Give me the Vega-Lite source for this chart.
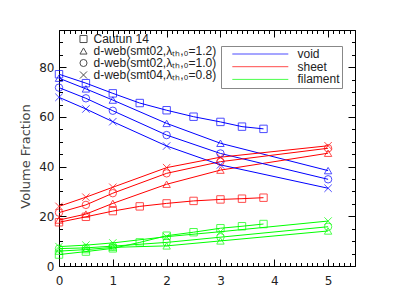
{
  "$schema": "https://vega.github.io/schema/vega-lite/v6.json",
  "width": 296,
  "height": 236,
  "autosize": "none",
  "padding": {"left": 59, "top": 30, "right": 60, "bottom": 31},
  "config": {
    "font": "DejaVu Sans",
    "view": {"stroke": "black", "strokeWidth": 1},
    "axis": {
      "grid": false,
      "domain": false,
      "tickColor": "black",
      "tickWidth": 1,
      "labelColor": "#222",
      "labelFontSize": 12,
      "labelFont": "DejaVu Sans",
      "titleFont": "DejaVu Sans",
      "titleFontSize": 13,
      "titleFontWeight": "normal",
      "titleColor": "#444",
      "labelOverlap": false,
      "labelFlush": false,
      "labelBound": false
    },
    "legend": {
      "labelFont": "Liberation Sans",
      "labelFontSize": 12,
      "labelColor": "#222"
    }
  },
  "data": {
    "values": [
      {"model": "Cautun 14", "comp": "void", "z": 0, "frac": 77.2},
      {"model": "Cautun 14", "comp": "void", "z": 0.5, "frac": 73.6},
      {"model": "Cautun 14", "comp": "void", "z": 1, "frac": 69.5},
      {"model": "Cautun 14", "comp": "void", "z": 1.5, "frac": 65.6},
      {"model": "Cautun 14", "comp": "void", "z": 2, "frac": 62.7},
      {"model": "Cautun 14", "comp": "void", "z": 2.5, "frac": 60.1},
      {"model": "Cautun 14", "comp": "void", "z": 3, "frac": 58.0},
      {"model": "Cautun 14", "comp": "void", "z": 3.4, "frac": 56.1},
      {"model": "Cautun 14", "comp": "void", "z": 3.8, "frac": 55.2},
      {"model": "Cautun 14", "comp": "sheet", "z": 0, "frac": 17.6},
      {"model": "Cautun 14", "comp": "sheet", "z": 0.5, "frac": 19.8},
      {"model": "Cautun 14", "comp": "sheet", "z": 1, "frac": 22.1},
      {"model": "Cautun 14", "comp": "sheet", "z": 1.5, "frac": 24.0},
      {"model": "Cautun 14", "comp": "sheet", "z": 2, "frac": 25.2},
      {"model": "Cautun 14", "comp": "sheet", "z": 2.5, "frac": 26.2},
      {"model": "Cautun 14", "comp": "sheet", "z": 3, "frac": 26.8},
      {"model": "Cautun 14", "comp": "sheet", "z": 3.4, "frac": 27.1},
      {"model": "Cautun 14", "comp": "sheet", "z": 3.8, "frac": 27.5},
      {"model": "Cautun 14", "comp": "filament", "z": 0, "frac": 4.6},
      {"model": "Cautun 14", "comp": "filament", "z": 0.5, "frac": 5.8},
      {"model": "Cautun 14", "comp": "filament", "z": 1, "frac": 7.1},
      {"model": "Cautun 14", "comp": "filament", "z": 1.5, "frac": 9.5},
      {"model": "Cautun 14", "comp": "filament", "z": 2, "frac": 12.2},
      {"model": "Cautun 14", "comp": "filament", "z": 2.5, "frac": 13.6},
      {"model": "Cautun 14", "comp": "filament", "z": 3, "frac": 15.2},
      {"model": "Cautun 14", "comp": "filament", "z": 3.4, "frac": 16.0},
      {"model": "Cautun 14", "comp": "filament", "z": 3.8, "frac": 16.9},

      {"model": "d-web(smt02,λₜₕ,₀=1.2)", "comp": "void", "z": 0, "frac": 75.6},
      {"model": "d-web(smt02,λₜₕ,₀=1.2)", "comp": "void", "z": 0.5, "frac": 71.3},
      {"model": "d-web(smt02,λₜₕ,₀=1.2)", "comp": "void", "z": 1, "frac": 66.8},
      {"model": "d-web(smt02,λₜₕ,₀=1.2)", "comp": "void", "z": 2, "frac": 57.4},
      {"model": "d-web(smt02,λₜₕ,₀=1.2)", "comp": "void", "z": 3, "frac": 49.4},
      {"model": "d-web(smt02,λₜₕ,₀=1.2)", "comp": "void", "z": 5, "frac": 38.4},
      {"model": "d-web(smt02,λₜₕ,₀=1.2)", "comp": "sheet", "z": 0, "frac": 18.5},
      {"model": "d-web(smt02,λₜₕ,₀=1.2)", "comp": "sheet", "z": 0.5, "frac": 20.9},
      {"model": "d-web(smt02,λₜₕ,₀=1.2)", "comp": "sheet", "z": 1, "frac": 25.2},
      {"model": "d-web(smt02,λₜₕ,₀=1.2)", "comp": "sheet", "z": 2, "frac": 32.9},
      {"model": "d-web(smt02,λₜₕ,₀=1.2)", "comp": "sheet", "z": 3, "frac": 38.6},
      {"model": "d-web(smt02,λₜₕ,₀=1.2)", "comp": "sheet", "z": 5, "frac": 45.4},
      {"model": "d-web(smt02,λₜₕ,₀=1.2)", "comp": "filament", "z": 0, "frac": 6.0},
      {"model": "d-web(smt02,λₜₕ,₀=1.2)", "comp": "filament", "z": 0.5, "frac": 6.6},
      {"model": "d-web(smt02,λₜₕ,₀=1.2)", "comp": "filament", "z": 1, "frac": 7.5},
      {"model": "d-web(smt02,λₜₕ,₀=1.2)", "comp": "filament", "z": 2, "frac": 8.1},
      {"model": "d-web(smt02,λₜₕ,₀=1.2)", "comp": "filament", "z": 3, "frac": 10.1},
      {"model": "d-web(smt02,λₜₕ,₀=1.2)", "comp": "filament", "z": 5, "frac": 14.1},

      {"model": "d-web(smt02,λₜₕ,₀=1.0)", "comp": "void", "z": 0, "frac": 71.8},
      {"model": "d-web(smt02,λₜₕ,₀=1.0)", "comp": "void", "z": 0.5, "frac": 67.5},
      {"model": "d-web(smt02,λₜₕ,₀=1.0)", "comp": "void", "z": 1, "frac": 62.5},
      {"model": "d-web(smt02,λₜₕ,₀=1.0)", "comp": "void", "z": 2, "frac": 52.7},
      {"model": "d-web(smt02,λₜₕ,₀=1.0)", "comp": "void", "z": 3, "frac": 45.3},
      {"model": "d-web(smt02,λₜₕ,₀=1.0)", "comp": "void", "z": 5, "frac": 34.9},
      {"model": "d-web(smt02,λₜₕ,₀=1.0)", "comp": "sheet", "z": 0, "frac": 21.5},
      {"model": "d-web(smt02,λₜₕ,₀=1.0)", "comp": "sheet", "z": 0.5, "frac": 24.6},
      {"model": "d-web(smt02,λₜₕ,₀=1.0)", "comp": "sheet", "z": 1, "frac": 29.3},
      {"model": "d-web(smt02,λₜₕ,₀=1.0)", "comp": "sheet", "z": 2, "frac": 37.3},
      {"model": "d-web(smt02,λₜₕ,₀=1.0)", "comp": "sheet", "z": 3, "frac": 42.0},
      {"model": "d-web(smt02,λₜₕ,₀=1.0)", "comp": "sheet", "z": 5, "frac": 47.4},
      {"model": "d-web(smt02,λₜₕ,₀=1.0)", "comp": "filament", "z": 0, "frac": 7.0},
      {"model": "d-web(smt02,λₜₕ,₀=1.0)", "comp": "filament", "z": 0.5, "frac": 7.3},
      {"model": "d-web(smt02,λₜₕ,₀=1.0)", "comp": "filament", "z": 1, "frac": 8.0},
      {"model": "d-web(smt02,λₜₕ,₀=1.0)", "comp": "filament", "z": 2, "frac": 9.5},
      {"model": "d-web(smt02,λₜₕ,₀=1.0)", "comp": "filament", "z": 3, "frac": 11.6},
      {"model": "d-web(smt02,λₜₕ,₀=1.0)", "comp": "filament", "z": 5, "frac": 15.8},

      {"model": "d-web(smt04,λₜₕ,₀=0.8)", "comp": "void", "z": 0, "frac": 67.9},
      {"model": "d-web(smt04,λₜₕ,₀=0.8)", "comp": "void", "z": 0.5, "frac": 63.2},
      {"model": "d-web(smt04,λₜₕ,₀=0.8)", "comp": "void", "z": 1, "frac": 58.1},
      {"model": "d-web(smt04,λₜₕ,₀=0.8)", "comp": "void", "z": 2, "frac": 48.3},
      {"model": "d-web(smt04,λₜₕ,₀=0.8)", "comp": "void", "z": 3, "frac": 40.7},
      {"model": "d-web(smt04,λₜₕ,₀=0.8)", "comp": "void", "z": 5, "frac": 31.3},
      {"model": "d-web(smt04,λₜₕ,₀=0.8)", "comp": "sheet", "z": 0, "frac": 24.0},
      {"model": "d-web(smt04,λₜₕ,₀=0.8)", "comp": "sheet", "z": 0.5, "frac": 27.7},
      {"model": "d-web(smt04,λₜₕ,₀=0.8)", "comp": "sheet", "z": 1, "frac": 31.7},
      {"model": "d-web(smt04,λₜₕ,₀=0.8)", "comp": "sheet", "z": 2, "frac": 39.6},
      {"model": "d-web(smt04,λₜₕ,₀=0.8)", "comp": "sheet", "z": 3, "frac": 43.8},
      {"model": "d-web(smt04,λₜₕ,₀=0.8)", "comp": "sheet", "z": 5, "frac": 48.4},
      {"model": "d-web(smt04,λₜₕ,₀=0.8)", "comp": "filament", "z": 0, "frac": 7.8},
      {"model": "d-web(smt04,λₜₕ,₀=0.8)", "comp": "filament", "z": 0.5, "frac": 8.4},
      {"model": "d-web(smt04,λₜₕ,₀=0.8)", "comp": "filament", "z": 1, "frac": 9.3},
      {"model": "d-web(smt04,λₜₕ,₀=0.8)", "comp": "filament", "z": 2, "frac": 11.8},
      {"model": "d-web(smt04,λₜₕ,₀=0.8)", "comp": "filament", "z": 3, "frac": 13.8},
      {"model": "d-web(smt04,λₜₕ,₀=0.8)", "comp": "filament", "z": 5, "frac": 18.1}
    ]
  },
  "layer": [
    {
      "mark": {"type": "line", "strokeWidth": 1},
      "encoding": {
        "x": {
          "field": "z", "type": "quantitative",
          "scale": {"domain": [0, 5.5], "nice": false, "zero": false},
          "axis": {
            "orient": "bottom",
            "title": "z",
            "values": [0,0.1,0.2,0.3,0.4,0.5,0.6,0.7,0.8,0.9,1,1.1,1.2,1.3,1.4,1.5,1.6,1.7,1.8,1.9,2,2.1,2.2,2.3,2.4,2.5,2.6,2.7,2.8,2.9,3,3.1,3.2,3.3,3.4,3.5,3.6,3.7,3.8,3.9,4,4.1,4.2,4.3,4.4,4.5,4.6,4.7,4.8,4.9,5,5.1,5.2,5.3,5.4,5.5],
            "labelExpr": "datum.value % 1 === 0 ? format(datum.value, 'd') : ''",
            "tickSize": {"condition": {"test": "datum.value % 1 === 0", "value": -7}, "value": -3.5},
            "labelPadding": 16,
            "titleX": 148,
            "titleY": 37,
            "titleBaseline": "alphabetic",
            "titleAlign": "center"
          }
        },
        "y": {
          "field": "frac", "type": "quantitative",
          "scale": {"domain": [0, 95], "nice": false},
          "axis": {
            "orient": "left",
            "title": "Volume Fraction",
            "values": [0,5,10,15,20,25,30,35,40,45,50,55,60,65,70,75,80,85,90,95],
            "labelExpr": "datum.value % 20 === 0 ? format(datum.value, 'd') : ''",
            "tickSize": {"condition": {"test": "datum.value % 20 === 0", "value": -7}, "value": -3.5},
            "labelPadding": 12,
            "titleX": -34,
            "titleY": 126,
            "titleAngle": -90,
            "titleBaseline": "middle",
            "titleAlign": "center"
          }
        },
        "color": {
          "field": "comp", "type": "nominal",
          "scale": {"domain": ["void", "sheet", "filament"], "range": ["#0000ff", "#ff0000", "#00ff00"]},
          "legend": {
            "title": null,
            "orient": "none",
            "legendX": 162,
            "legendY": 16,
            "padding": 2,
            "rowPadding": 0.7,
            "clipHeight": 12,
            "symbolType": "stroke",
            "symbolSize": 3136,
            "symbolStrokeWidth": 1,
            "symbolOffset": 8.8,
            "labelOffset": 8.7,
            "strokeColor": "#888",
            "fillColor": "white"
          }
        },
        "detail": {"field": "model"}
      }
    },
    {
      "mark": {"type": "point", "filled": false, "strokeWidth": 1, "size": 55},
      "encoding": {
        "x": {
          "field": "z", "type": "quantitative",
          "scale": {"domain": [0, 5.5], "nice": false, "zero": false},
          "axis": {
            "orient": "top",
            "title": null,
            "values": [0,0.1,0.2,0.3,0.4,0.5,0.6,0.7,0.8,0.9,1,1.1,1.2,1.3,1.4,1.5,1.6,1.7,1.8,1.9,2,2.1,2.2,2.3,2.4,2.5,2.6,2.7,2.8,2.9,3,3.1,3.2,3.3,3.4,3.5,3.6,3.7,3.8,3.9,4,4.1,4.2,4.3,4.4,4.5,4.6,4.7,4.8,4.9,5,5.1,5.2,5.3,5.4,5.5],
            "labels": false,
            "tickSize": {"condition": {"test": "datum.value % 1 === 0", "value": -7}, "value": -3.5}
          }
        },
        "y": {
          "field": "frac", "type": "quantitative",
          "scale": {"domain": [0, 95], "nice": false},
          "axis": {
            "orient": "right",
            "title": null,
            "values": [0,5,10,15,20,25,30,35,40,45,50,55,60,65,70,75,80,85,90,95],
            "labels": false,
            "tickSize": {"condition": {"test": "datum.value % 20 === 0", "value": -7}, "value": -3.5}
          }
        },
        "color": {
          "field": "comp", "type": "nominal",
          "scale": {"domain": ["void", "sheet", "filament"], "range": ["#0000ff", "#ff0000", "#00ff00"]},
          "legend": {
            "title": null,
            "orient": "none",
            "legendX": 162,
            "legendY": 16,
            "padding": 2,
            "rowPadding": 0.7,
            "clipHeight": 12,
            "symbolType": "stroke",
            "symbolSize": 3136,
            "symbolStrokeWidth": 1,
            "symbolOffset": 8.8,
            "labelOffset": 8.7,
            "strokeColor": "#888",
            "fillColor": "white"
          }
        },
        "shape": {
          "field": "model", "type": "nominal",
          "scale": {
            "domain": ["Cautun 14", "d-web(smt02,λₜₕ,₀=1.2)", "d-web(smt02,λₜₕ,₀=1.0)", "d-web(smt04,λₜₕ,₀=0.8)"],
            "range": ["square", "triangle-up", "circle", "M-1,-1L1,1M-1,1L1,-1"]
          },
          "legend": {
            "title": null,
            "orient": "none",
            "legendX": 18.5,
            "legendY": 3,
            "padding": 0,
            "rowPadding": 0,
            "clipHeight": 12,
            "symbolSize": 50,
            "symbolStrokeColor": "black",
            "symbolStrokeWidth": 1,
            "symbolFillColor": "transparent",
            "labelOffset": 4
          }
        }
      }
    }
  ],
  "resolve": {"axis": {"x": "independent", "y": "independent"}}
}
